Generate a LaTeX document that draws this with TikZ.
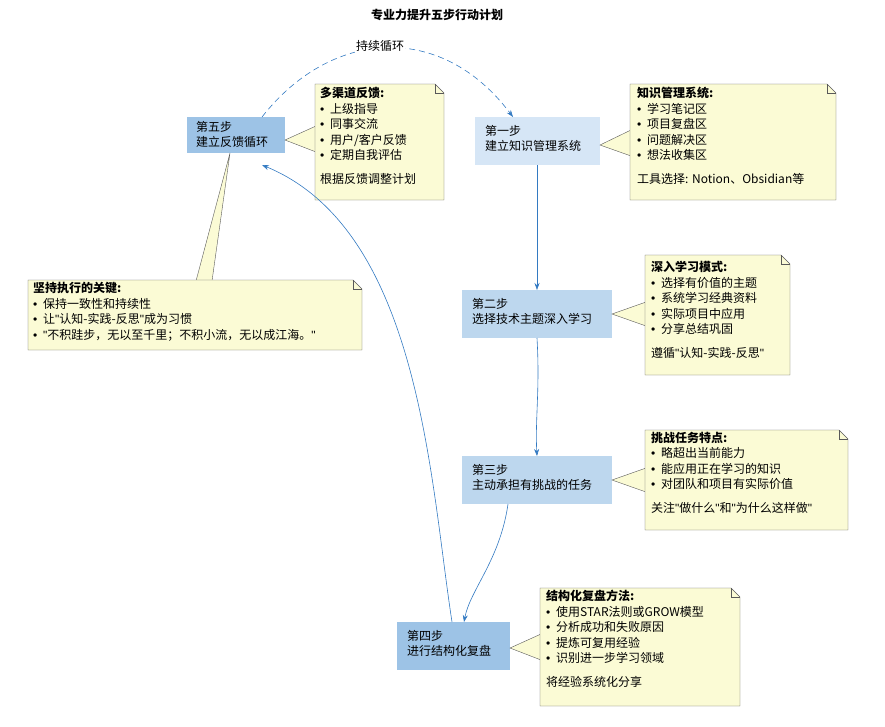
\documentclass[tikz,border=0pt]{standalone}
\usepackage{fontspec}
\setmainfont{Noto Sans CJK SC}
\newfontfamily\latinf{Liberation Sans}
\usetikzlibrary{arrows.meta}
\definecolor{stepdark}{HTML}{9DC3E6}
\definecolor{steplight}{HTML}{D6E6F6}
\definecolor{stepmid}{HTML}{BDD7EE}
\definecolor{notefill}{HTML}{FBFBD5}
\newcommand{\qt}{{\latinf\char34}}
\newcommand{\bul}{\makebox[10pt][l]{\latinf\char"2022}}
\tikzset{
  stepbox/.style={draw=none,rounded corners=2pt,align=left,font=\fontsize{12}{15.5}\selectfont,inner sep=0pt,anchor=north west},
  notetext/.style={align=left,anchor=north west,font=\fontsize{12}{15.5}\selectfont,inner sep=0pt},
  flow/.style={-{Stealth[length=7pt,width=5pt]},draw=blue!50!cyan!70!black!80,line width=0.6pt},
}
\newcommand{\drawnote}[5]{% x1,y1,x2,y2,name
  \fill[notefill] (#1,#2) -- (#3-9,#2) -- (#3,#2+9) -- (#3,#4) -- (#1,#4) -- cycle;
  \draw[gray!70!black] (#1,#2) -- (#3-9,#2) -- (#3,#2+9) -- (#3,#4) -- (#1,#4) -- cycle;
  \draw[gray!70!black] (#3-9,#2) -- (#3-9,#2+9) -- (#3,#2+9);
  \coordinate (#5) at (#1,#2);
}
\begin{document}
\begin{tikzpicture}[x=1pt,y=-1pt]
\useasboundingbox (0,0) rectangle (885,726);
\node[font=\bfseries\fontsize{12}{13}\selectfont] (title) at (437,15) {专业力提升五步行动计划};

% steps
\fill[stepdark] (187,117) rectangle (285,153);
\fill[steplight] (475,117) rectangle (600,165);
\fill[stepmid] (462,290) rectangle (612,338);
\fill[stepmid] (462,456) rectangle (612,504);
\fill[stepdark] (397,622) rectangle (510,670);
\node[stepbox] (s5) at (196,121) {第五步\\建立反馈循环};
\node[stepbox] (s1) at (485,125) {第一步\\建立知识管理系统};
\node[stepbox] (s2) at (472,298) {第二步\\选择技术主题深入学习};
\node[stepbox] (s3) at (472,464) {第三步\\主动承担有挑战的任务};
\node[stepbox] (s4) at (407,630) {第四步\\进行结构化复盘};

% note pointers
\fill[notefill] (285,140) -- (316,126) -- (316,152) -- cycle;
\draw[gray!70!black] (316,126) -- (285,140) -- (316,152);
\fill[notefill] (600,145) -- (631,130) -- (631,156) -- cycle;
\draw[gray!70!black] (631,130) -- (600,145) -- (631,156);
\fill[notefill] (612,314) -- (646,302) -- (646,326) -- cycle;
\draw[gray!70!black] (646,302) -- (612,314) -- (646,326);
\fill[notefill] (612,480) -- (646,468) -- (646,492) -- cycle;
\draw[gray!70!black] (646,468) -- (612,480) -- (646,492);
\fill[notefill] (510,648) -- (541,634) -- (541,660) -- cycle;
\draw[gray!70!black] (541,634) -- (510,648) -- (541,660);
\fill[notefill] (230,153) -- (196,281) -- (212,281) -- cycle;
\draw[gray!70!black] (196,281) -- (230,153) -- (212,281);

% notes
\drawnote{315}{84}{444}{200}{nfb}
\drawnote{630}{84}{836}{200}{nkm}
\drawnote{645}{255}{790}{375}{ndl}
\drawnote{645}{430}{848}{530}{nch}
\drawnote{540}{588}{740}{706}{nst}
\drawnote{28}{280}{362}{350}{nkey}
\node[notetext] at ([shift={(5,3)}]nfb) {\textbf{多渠道反馈:}\\\bul{}上级指导\\\bul{}同事交流\\\bul{}用户/客户反馈\\\bul{}定期自我评估\\[8pt]根据反馈调整计划};
\node[notetext] at ([shift={(7,3)}]nkm) {\textbf{知识管理系统:}\\\bul{}学习笔记区\\\bul{}项目复盘区\\\bul{}问题解决区\\\bul{}想法收集区\\[8pt]工具选择: Notion、Obsidian等};
\node[notetext] at ([shift={(6,6)}]ndl) {\textbf{深入学习模式:}\\\bul{}选择有价值的主题\\\bul{}系统学习经典资料\\\bul{}实际项目中应用\\\bul{}分享总结巩固\\[8pt]遵循\qt{}认知-实践-反思\qt{}};
\node[notetext] at ([shift={(6,2)}]nch) {\textbf{挑战任务特点:}\\\bul{}略超出当前能力\\\bul{}能应用正在学习的知识\\\bul{}对团队和项目有实际价值\\[8pt]关注\qt{}做什么\qt{}和\qt{}为什么这样做\qt{}};
\node[notetext] at ([shift={(6,2)}]nst) {\textbf{结构化复盘方法:}\\\bul{}使用STAR法则或GROW模型\\\bul{}分析成功和失败原因\\\bul{}提炼可复用经验\\\bul{}识别进一步学习领域\\[8pt]将经验系统化分享};
\node[notetext] at ([shift={(5,2)}]nkey) {\textbf{坚持执行的关键:}\\\bul{}保持一致性和持续性\\\bul{}让\qt{}认知-实践-反思\qt{}成为习惯\\\bul{}\qt{}不积跬步，无以至千里；不积小流，无以成江海。\qt{}};

% connectors
\coordinate (s5top) at (262,117);
\coordinate (s1top) at (513,117);
\draw[flow,dashed,dash pattern=on 6pt off 4pt] (s5top) .. controls (330,30) and (440,20) .. (s1top);
\node[font=\fontsize{12}{13}\selectfont,fill=white,inner sep=1pt] (loop) at (380,46) {持续循环};
\coordinate (s1b) at (537,165);
\coordinate (s2t) at (537,290);
\coordinate (s2b) at (537,338);
\coordinate (s3t) at (537,456);
\coordinate (s3b) at (508,504);
\coordinate (s4t) at (464,622);
\coordinate (s4u) at (452,622);
\coordinate (s5b) at (262,165);
\draw[flow] (s1b) -- (s2t);
\draw[flow] (s2b) .. controls (540,390) and (535,420) .. (s3t);
\draw[flow] (s3b) .. controls (500,560) and (470,590) .. (s4t);
\draw[flow] (s4u) .. controls (430,480) and (420,230) .. (s5b);
\end{tikzpicture}
\end{document}
